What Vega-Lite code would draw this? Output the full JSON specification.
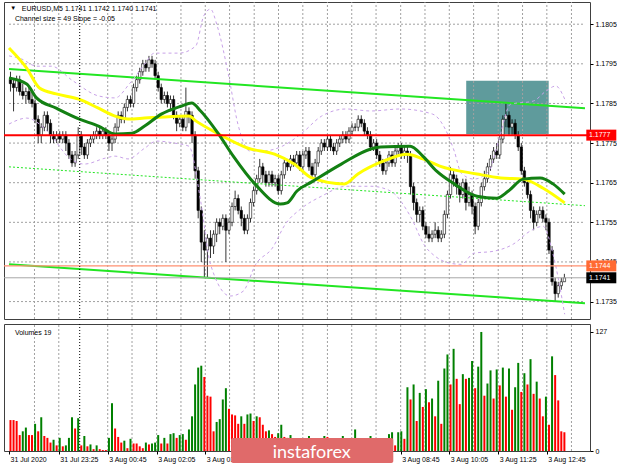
{
"$schema":"https://vega.github.io/schema/vega-lite/v6.json",
"background":"white",
"padding":{"left":2,"top":1,"right":0,"bottom":0},
"spacing":3,
"config":{"view":{"stroke":"#404040","strokeWidth":1},"axis":{"labelFont":"Liberation Sans","labelFontSize":7,"labelColor":"#000","title":null,"labelOverlap":false,"grid":false},"text":{"font":"Liberation Sans"}},
"datasets":{
"bars":[
{"i":0,"o":1.1791,"h":1.1793,"l":1.1788,"c":1.179,"v":33,"vd":"d"},
{"i":1,"o":1.179,"h":1.1791,"l":1.1783,"c":1.1789,"v":33,"vd":"d"},
{"i":2,"o":1.1789,"h":1.1792,"l":1.1788,"c":1.1791,"v":32,"vd":"d"},
{"i":3,"o":1.1791,"h":1.1792,"l":1.1787,"c":1.1788,"v":17,"vd":"d"},
{"i":4,"o":1.1788,"h":1.179,"l":1.1786,"c":1.1787,"v":21,"vd":"u"},
{"i":5,"o":1.1787,"h":1.1789,"l":1.1785,"c":1.1788,"v":25,"vd":"u"},
{"i":6,"o":1.1788,"h":1.1789,"l":1.1785,"c":1.1786,"v":17,"vd":"d"},
{"i":7,"o":1.1786,"h":1.1788,"l":1.1784,"c":1.1785,"v":17,"vd":"d"},
{"i":8,"o":1.1785,"h":1.1786,"l":1.178,"c":1.1781,"v":29,"vd":"u"},
{"i":9,"o":1.1781,"h":1.1782,"l":1.1775,"c":1.1777,"v":21,"vd":"d"},
{"i":10,"o":1.1777,"h":1.178,"l":1.1775,"c":1.1779,"v":36,"vd":"u"},
{"i":11,"o":1.1779,"h":1.1783,"l":1.1778,"c":1.1782,"v":16,"vd":"d"},
{"i":12,"o":1.1782,"h":1.1783,"l":1.1778,"c":1.178,"v":14,"vd":"d"},
{"i":13,"o":1.178,"h":1.1781,"l":1.1775,"c":1.1777,"v":9,"vd":"d"},
{"i":14,"o":1.1777,"h":1.1778,"l":1.1775,"c":1.1776,"v":12,"vd":"u"},
{"i":15,"o":1.1776,"h":1.1778,"l":1.1775,"c":1.1777,"v":6,"vd":"d"},
{"i":16,"o":1.1777,"h":1.1778,"l":1.1775,"c":1.1776,"v":14,"vd":"u"},
{"i":17,"o":1.1776,"h":1.1778,"l":1.1775,"c":1.1777,"v":5,"vd":"d"},
{"i":18,"o":1.1777,"h":1.1778,"l":1.1773,"c":1.1775,"v":6,"vd":"u"},
{"i":19,"o":1.1775,"h":1.1776,"l":1.1771,"c":1.1772,"v":14,"vd":"u"},
{"i":20,"o":1.1772,"h":1.1773,"l":1.1769,"c":1.177,"v":36,"vd":"u"},
{"i":21,"o":1.177,"h":1.1773,"l":1.1769,"c":1.1772,"v":24,"vd":"d"},
{"i":22,"o":1.1772,"h":1.1779,"l":1.1771,"c":1.1777,"v":35,"vd":"u"},
{"i":23,"o":1.1777,"h":1.1778,"l":1.1772,"c":1.1774,"v":6,"vd":"d"},
{"i":24,"o":1.1774,"h":1.1775,"l":1.1771,"c":1.1772,"v":16,"vd":"u"},
{"i":25,"o":1.1772,"h":1.1776,"l":1.1771,"c":1.1775,"v":5,"vd":"d"},
{"i":26,"o":1.1775,"h":1.1777,"l":1.1774,"c":1.1776,"v":7,"vd":"u"},
{"i":27,"o":1.1776,"h":1.1778,"l":1.1775,"c":1.1777,"v":2,"vd":"d"},
{"i":28,"o":1.1777,"h":1.1779,"l":1.1776,"c":1.1778,"v":6,"vd":"u"},
{"i":29,"o":1.1778,"h":1.1779,"l":1.1776,"c":1.1777,"v":2,"vd":"d"},
{"i":30,"o":1.1777,"h":1.1779,"l":1.1776,"c":1.1778,"v":1,"vd":"d"},
{"i":31,"o":1.1778,"h":1.1779,"l":1.1776,"c":1.1777,"v":1,"vd":"d"},
{"i":32,"o":1.1777,"h":1.1778,"l":1.1773,"c":1.1775,"v":14,"vd":"u"},
{"i":33,"o":1.1775,"h":1.1777,"l":1.1773,"c":1.1776,"v":51,"vd":"u"},
{"i":34,"o":1.1776,"h":1.178,"l":1.1775,"c":1.1779,"v":24,"vd":"d"},
{"i":35,"o":1.1779,"h":1.1783,"l":1.1778,"c":1.1782,"v":15,"vd":"d"},
{"i":36,"o":1.1782,"h":1.1783,"l":1.178,"c":1.1781,"v":9,"vd":"d"},
{"i":37,"o":1.1781,"h":1.1785,"l":1.178,"c":1.1784,"v":11,"vd":"u"},
{"i":38,"o":1.1784,"h":1.1787,"l":1.1783,"c":1.1786,"v":3,"vd":"d"},
{"i":39,"o":1.1786,"h":1.1787,"l":1.1784,"c":1.1785,"v":13,"vd":"u"},
{"i":40,"o":1.1785,"h":1.179,"l":1.1784,"c":1.1789,"v":8,"vd":"d"},
{"i":41,"o":1.1789,"h":1.1792,"l":1.1788,"c":1.1791,"v":8,"vd":"d"},
{"i":42,"o":1.1791,"h":1.1794,"l":1.179,"c":1.1793,"v":5,"vd":"d"},
{"i":43,"o":1.1793,"h":1.1796,"l":1.1792,"c":1.1795,"v":3,"vd":"d"},
{"i":44,"o":1.1795,"h":1.1796,"l":1.1793,"c":1.1794,"v":9,"vd":"u"},
{"i":45,"o":1.1794,"h":1.1797,"l":1.1793,"c":1.1796,"v":7,"vd":"d"},
{"i":46,"o":1.1796,"h":1.1797,"l":1.1794,"c":1.1795,"v":8,"vd":"u"},
{"i":47,"o":1.1795,"h":1.1796,"l":1.1791,"c":1.1792,"v":9,"vd":"u"},
{"i":48,"o":1.1792,"h":1.1793,"l":1.1788,"c":1.1789,"v":17,"vd":"u"},
{"i":49,"o":1.1789,"h":1.179,"l":1.1785,"c":1.1786,"v":8,"vd":"d"},
{"i":50,"o":1.1786,"h":1.1788,"l":1.1785,"c":1.1787,"v":14,"vd":"u"},
{"i":51,"o":1.1787,"h":1.1788,"l":1.1784,"c":1.1785,"v":8,"vd":"d"},
{"i":52,"o":1.1785,"h":1.1787,"l":1.1783,"c":1.1786,"v":18,"vd":"u"},
{"i":53,"o":1.1786,"h":1.1787,"l":1.1781,"c":1.1782,"v":19,"vd":"u"},
{"i":54,"o":1.1782,"h":1.1783,"l":1.1778,"c":1.178,"v":14,"vd":"d"},
{"i":55,"o":1.178,"h":1.1782,"l":1.1779,"c":1.1781,"v":17,"vd":"u"},
{"i":56,"o":1.1781,"h":1.1782,"l":1.1778,"c":1.1779,"v":18,"vd":"u"},
{"i":57,"o":1.1779,"h":1.1789,"l":1.1778,"c":1.1783,"v":12,"vd":"d"},
{"i":58,"o":1.1783,"h":1.1784,"l":1.178,"c":1.1782,"v":23,"vd":"u"},
{"i":59,"o":1.1782,"h":1.1783,"l":1.1775,"c":1.1777,"v":37,"vd":"u"},
{"i":60,"o":1.1777,"h":1.1778,"l":1.1766,"c":1.1768,"v":71,"vd":"u"},
{"i":61,"o":1.1768,"h":1.1769,"l":1.1756,"c":1.1758,"v":89,"vd":"u"},
{"i":62,"o":1.1758,"h":1.1759,"l":1.1745,"c":1.175,"v":91,"vd":"u"},
{"i":63,"o":1.175,"h":1.1753,"l":1.1741,"c":1.1748,"v":79,"vd":"d"},
{"i":64,"o":1.1748,"h":1.1752,"l":1.1741,"c":1.1751,"v":59,"vd":"d"},
{"i":65,"o":1.1751,"h":1.1753,"l":1.1746,"c":1.1749,"v":58,"vd":"d"},
{"i":66,"o":1.1749,"h":1.1753,"l":1.1747,"c":1.1752,"v":21,"vd":"d"},
{"i":67,"o":1.1752,"h":1.1756,"l":1.175,"c":1.1755,"v":31,"vd":"u"},
{"i":68,"o":1.1755,"h":1.1756,"l":1.1752,"c":1.1754,"v":34,"vd":"u"},
{"i":69,"o":1.1754,"h":1.1757,"l":1.1753,"c":1.1756,"v":55,"vd":"u"},
{"i":70,"o":1.1756,"h":1.1757,"l":1.1745,"c":1.1753,"v":67,"vd":"u"},
{"i":71,"o":1.1753,"h":1.1756,"l":1.1752,"c":1.1755,"v":45,"vd":"d"},
{"i":72,"o":1.1755,"h":1.176,"l":1.1754,"c":1.1759,"v":39,"vd":"d"},
{"i":73,"o":1.1759,"h":1.1763,"l":1.1758,"c":1.1761,"v":38,"vd":"d"},
{"i":74,"o":1.1761,"h":1.1762,"l":1.1757,"c":1.1758,"v":29,"vd":"d"},
{"i":75,"o":1.1758,"h":1.1759,"l":1.1754,"c":1.1756,"v":37,"vd":"u"},
{"i":76,"o":1.1756,"h":1.1757,"l":1.1752,"c":1.1753,"v":29,"vd":"d"},
{"i":77,"o":1.1753,"h":1.1757,"l":1.1752,"c":1.1756,"v":39,"vd":"u"},
{"i":78,"o":1.1756,"h":1.1761,"l":1.1755,"c":1.176,"v":40,"vd":"u"},
{"i":79,"o":1.176,"h":1.1764,"l":1.1759,"c":1.1763,"v":32,"vd":"d"},
{"i":80,"o":1.1763,"h":1.1767,"l":1.1762,"c":1.1766,"v":37,"vd":"u"},
{"i":81,"o":1.1766,"h":1.1771,"l":1.1765,"c":1.1769,"v":36,"vd":"d"},
{"i":82,"o":1.1769,"h":1.177,"l":1.1765,"c":1.1767,"v":28,"vd":"d"},
{"i":83,"o":1.1767,"h":1.1768,"l":1.1764,"c":1.1765,"v":21,"vd":"d"},
{"i":84,"o":1.1765,"h":1.1768,"l":1.1764,"c":1.1767,"v":22,"vd":"u"},
{"i":85,"o":1.1767,"h":1.1768,"l":1.1764,"c":1.1765,"v":18,"vd":"d"},
{"i":86,"o":1.1765,"h":1.1767,"l":1.1764,"c":1.1766,"v":15,"vd":"d"},
{"i":87,"o":1.1766,"h":1.1767,"l":1.1762,"c":1.1763,"v":19,"vd":"u"},
{"i":88,"o":1.1763,"h":1.1768,"l":1.1762,"c":1.1767,"v":28,"vd":"u"},
{"i":89,"o":1.1767,"h":1.1771,"l":1.1766,"c":1.177,"v":15,"vd":"d"},
{"i":90,"o":1.177,"h":1.1771,"l":1.1768,"c":1.1769,"v":14,"vd":"d"},
{"i":91,"o":1.1769,"h":1.1772,"l":1.1768,"c":1.1771,"v":17,"vd":"u"},
{"i":92,"o":1.1771,"h":1.1772,"l":1.1769,"c":1.177,"v":8,"vd":"d"},
{"i":93,"o":1.177,"h":1.1773,"l":1.1769,"c":1.1772,"v":5,"vd":"d"},
{"i":94,"o":1.1772,"h":1.1773,"l":1.1768,"c":1.1769,"v":9,"vd":"u"},
{"i":95,"o":1.1769,"h":1.1773,"l":1.1768,"c":1.1772,"v":4,"vd":"d"},
{"i":96,"o":1.1772,"h":1.1774,"l":1.1771,"c":1.1773,"v":3,"vd":"d"},
{"i":97,"o":1.1773,"h":1.1774,"l":1.1768,"c":1.1769,"v":16,"vd":"u"},
{"i":98,"o":1.1769,"h":1.177,"l":1.1766,"c":1.1767,"v":7,"vd":"d"},
{"i":99,"o":1.1767,"h":1.1771,"l":1.1766,"c":1.177,"v":5,"vd":"d"},
{"i":100,"o":1.177,"h":1.1774,"l":1.1769,"c":1.1773,"v":9,"vd":"u"},
{"i":101,"o":1.1773,"h":1.1776,"l":1.1772,"c":1.1775,"v":4,"vd":"d"},
{"i":102,"o":1.1775,"h":1.1776,"l":1.1773,"c":1.1774,"v":16,"vd":"u"},
{"i":103,"o":1.1774,"h":1.1777,"l":1.1773,"c":1.1776,"v":15,"vd":"d"},
{"i":104,"o":1.1776,"h":1.1777,"l":1.1773,"c":1.1774,"v":6,"vd":"d"},
{"i":105,"o":1.1774,"h":1.1775,"l":1.1772,"c":1.1773,"v":3,"vd":"d"},
{"i":106,"o":1.1773,"h":1.1776,"l":1.1772,"c":1.1775,"v":8,"vd":"u"},
{"i":107,"o":1.1775,"h":1.1777,"l":1.1774,"c":1.1776,"v":5,"vd":"d"},
{"i":108,"o":1.1776,"h":1.1778,"l":1.1775,"c":1.1777,"v":16,"vd":"u"},
{"i":109,"o":1.1777,"h":1.1778,"l":1.1775,"c":1.1776,"v":6,"vd":"d"},
{"i":110,"o":1.1776,"h":1.1779,"l":1.1775,"c":1.1778,"v":4,"vd":"d"},
{"i":111,"o":1.1778,"h":1.178,"l":1.1777,"c":1.1779,"v":8,"vd":"u"},
{"i":112,"o":1.1779,"h":1.178,"l":1.1778,"c":1.1779,"v":23,"vd":"u"},
{"i":113,"o":1.1779,"h":1.1782,"l":1.1778,"c":1.1781,"v":5,"vd":"d"},
{"i":114,"o":1.1781,"h":1.1782,"l":1.1779,"c":1.178,"v":3,"vd":"d"},
{"i":115,"o":1.178,"h":1.1781,"l":1.1777,"c":1.1778,"v":7,"vd":"u"},
{"i":116,"o":1.1778,"h":1.1779,"l":1.1776,"c":1.1777,"v":5,"vd":"d"},
{"i":117,"o":1.1777,"h":1.1778,"l":1.1773,"c":1.1774,"v":16,"vd":"u"},
{"i":118,"o":1.1774,"h":1.1776,"l":1.1773,"c":1.1775,"v":9,"vd":"d"},
{"i":119,"o":1.1775,"h":1.1776,"l":1.1771,"c":1.1772,"v":4,"vd":"d"},
{"i":120,"o":1.1772,"h":1.1773,"l":1.1769,"c":1.177,"v":7,"vd":"u"},
{"i":121,"o":1.177,"h":1.1771,"l":1.1767,"c":1.1768,"v":9,"vd":"u"},
{"i":122,"o":1.1768,"h":1.1771,"l":1.1767,"c":1.177,"v":5,"vd":"d"},
{"i":123,"o":1.177,"h":1.1773,"l":1.1769,"c":1.1772,"v":18,"vd":"u"},
{"i":124,"o":1.1772,"h":1.1773,"l":1.1769,"c":1.177,"v":20,"vd":"u"},
{"i":125,"o":1.177,"h":1.1774,"l":1.1769,"c":1.1773,"v":6,"vd":"d"},
{"i":126,"o":1.1773,"h":1.1775,"l":1.1772,"c":1.1774,"v":20,"vd":"u"},
{"i":127,"o":1.1774,"h":1.1775,"l":1.1771,"c":1.1772,"v":21,"vd":"u"},
{"i":128,"o":1.1772,"h":1.1774,"l":1.1771,"c":1.1773,"v":13,"vd":"d"},
{"i":129,"o":1.1773,"h":1.1774,"l":1.177,"c":1.1772,"v":68,"vd":"u"},
{"i":130,"o":1.1772,"h":1.1773,"l":1.1762,"c":1.1764,"v":55,"vd":"d"},
{"i":131,"o":1.1764,"h":1.1765,"l":1.1758,"c":1.176,"v":71,"vd":"u"},
{"i":132,"o":1.176,"h":1.1761,"l":1.1755,"c":1.1757,"v":32,"vd":"d"},
{"i":133,"o":1.1757,"h":1.1759,"l":1.1755,"c":1.1758,"v":62,"vd":"u"},
{"i":134,"o":1.1758,"h":1.1759,"l":1.1753,"c":1.1754,"v":47,"vd":"d"},
{"i":135,"o":1.1754,"h":1.1755,"l":1.1751,"c":1.1752,"v":66,"vd":"u"},
{"i":136,"o":1.1752,"h":1.1754,"l":1.175,"c":1.1751,"v":52,"vd":"d"},
{"i":137,"o":1.1751,"h":1.1753,"l":1.175,"c":1.1752,"v":56,"vd":"u"},
{"i":138,"o":1.1752,"h":1.1755,"l":1.1751,"c":1.1753,"v":37,"vd":"d"},
{"i":139,"o":1.1753,"h":1.1754,"l":1.175,"c":1.1751,"v":75,"vd":"u"},
{"i":140,"o":1.1751,"h":1.1753,"l":1.175,"c":1.1752,"v":29,"vd":"d"},
{"i":141,"o":1.1752,"h":1.1758,"l":1.1751,"c":1.1757,"v":88,"vd":"u"},
{"i":142,"o":1.1757,"h":1.1763,"l":1.1756,"c":1.1762,"v":103,"vd":"u"},
{"i":143,"o":1.1762,"h":1.1769,"l":1.1761,"c":1.1767,"v":71,"vd":"d"},
{"i":144,"o":1.1767,"h":1.1768,"l":1.1764,"c":1.1766,"v":109,"vd":"u"},
{"i":145,"o":1.1766,"h":1.1767,"l":1.1762,"c":1.1764,"v":77,"vd":"d"},
{"i":146,"o":1.1764,"h":1.1765,"l":1.176,"c":1.1762,"v":50,"vd":"d"},
{"i":147,"o":1.1762,"h":1.1766,"l":1.1761,"c":1.1765,"v":82,"vd":"u"},
{"i":148,"o":1.1765,"h":1.1766,"l":1.1758,"c":1.176,"v":77,"vd":"d"},
{"i":149,"o":1.176,"h":1.1764,"l":1.1759,"c":1.1762,"v":78,"vd":"u"},
{"i":150,"o":1.1762,"h":1.1763,"l":1.1757,"c":1.1759,"v":96,"vd":"u"},
{"i":151,"o":1.1759,"h":1.176,"l":1.1752,"c":1.1754,"v":67,"vd":"d"},
{"i":152,"o":1.1754,"h":1.1761,"l":1.1753,"c":1.176,"v":90,"vd":"u"},
{"i":153,"o":1.176,"h":1.1765,"l":1.1759,"c":1.1764,"v":127,"vd":"u"},
{"i":154,"o":1.1764,"h":1.1768,"l":1.1763,"c":1.1766,"v":59,"vd":"d"},
{"i":155,"o":1.1766,"h":1.177,"l":1.1765,"c":1.1769,"v":72,"vd":"u"},
{"i":156,"o":1.1769,"h":1.1772,"l":1.1768,"c":1.1771,"v":86,"vd":"u"},
{"i":157,"o":1.1771,"h":1.1774,"l":1.177,"c":1.1773,"v":56,"vd":"d"},
{"i":158,"o":1.1773,"h":1.1775,"l":1.1771,"c":1.1772,"v":87,"vd":"u"},
{"i":159,"o":1.1772,"h":1.1777,"l":1.1771,"c":1.1776,"v":70,"vd":"d"},
{"i":160,"o":1.1776,"h":1.1782,"l":1.1775,"c":1.1781,"v":89,"vd":"u"},
{"i":161,"o":1.1781,"h":1.1785,"l":1.1779,"c":1.1782,"v":58,"vd":"d"},
{"i":162,"o":1.1782,"h":1.1783,"l":1.1777,"c":1.1779,"v":88,"vd":"u"},
{"i":163,"o":1.1779,"h":1.1781,"l":1.1777,"c":1.178,"v":44,"vd":"d"},
{"i":164,"o":1.178,"h":1.1781,"l":1.1776,"c":1.1777,"v":68,"vd":"u"},
{"i":165,"o":1.1777,"h":1.1778,"l":1.1773,"c":1.1774,"v":94,"vd":"u"},
{"i":166,"o":1.1774,"h":1.1775,"l":1.1767,"c":1.1768,"v":63,"vd":"d"},
{"i":167,"o":1.1768,"h":1.1769,"l":1.1764,"c":1.1765,"v":83,"vd":"u"},
{"i":168,"o":1.1765,"h":1.1766,"l":1.1761,"c":1.1762,"v":71,"vd":"d"},
{"i":169,"o":1.1762,"h":1.1763,"l":1.1756,"c":1.1758,"v":98,"vd":"u"},
{"i":170,"o":1.1758,"h":1.1759,"l":1.1753,"c":1.1755,"v":61,"vd":"d"},
{"i":171,"o":1.1755,"h":1.1758,"l":1.1754,"c":1.1757,"v":74,"vd":"u"},
{"i":172,"o":1.1757,"h":1.1759,"l":1.1756,"c":1.1758,"v":56,"vd":"d"},
{"i":173,"o":1.1758,"h":1.1759,"l":1.1755,"c":1.1756,"v":37,"vd":"d"},
{"i":174,"o":1.1756,"h":1.1757,"l":1.1753,"c":1.1755,"v":58,"vd":"u"},
{"i":175,"o":1.1755,"h":1.1756,"l":1.1747,"c":1.1748,"v":28,"vd":"d"},
{"i":176,"o":1.1748,"h":1.1749,"l":1.1739,"c":1.174,"v":101,"vd":"u"},
{"i":177,"o":1.174,"h":1.1741,"l":1.1735,"c":1.1737,"v":81,"vd":"d"},
{"i":178,"o":1.1737,"h":1.174,"l":1.1736,"c":1.1739,"v":54,"vd":"d"},
{"i":179,"o":1.1739,"h":1.1741,"l":1.1738,"c":1.174,"v":21,"vd":"d"},
{"i":180,"o":1.174,"h":1.1742,"l":1.174,"c":1.1741,"v":20,"vd":"d"}
],
"lines":[
{"s":"y","i":-0.48,"p":1.1799},{"s":"y","i":5.27,"p":1.17939},{"s":"y","i":9.42,"p":1.17889},{"s":"y","i":14.86,"p":1.17874},{"s":"y","i":22.2,"p":1.17861},{"s":"y","i":28.6,"p":1.17838},{"s":"y","i":34,"p":1.17818},{"s":"y","i":38.2,"p":1.17811},{"s":"y","i":43.6,"p":1.17813},{"s":"y","i":50,"p":1.17816},{"s":"y","i":58,"p":1.17818},{"s":"y","i":60.2,"p":1.17806},{"s":"y","i":67.6,"p":1.17773},{"s":"y","i":77.2,"p":1.17737},{"s":"y","i":85.8,"p":1.17722},{"s":"y","i":92.2,"p":1.17697},{"s":"y","i":97.9,"p":1.17662},{"s":"y","i":108.5,"p":1.17647},{"s":"y","i":112.9,"p":1.17672},{"s":"y","i":121.3,"p":1.17705},{"s":"y","i":128.9,"p":1.17722},{"s":"y","i":134,"p":1.1771},{"s":"y","i":139.5,"p":1.17692},{"s":"y","i":151.6,"p":1.17672},{"s":"y","i":159.3,"p":1.17662},{"s":"y","i":166.6,"p":1.17659},{"s":"y","i":173.1,"p":1.17636},{"s":"y","i":180.1,"p":1.17599},
{"s":"g","i":-0.48,"p":1.17914},{"s":"g","i":5.27,"p":1.17899},{"s":"g","i":8.47,"p":1.17864},{"s":"g","i":14.86,"p":1.17838},{"s":"g","i":22.2,"p":1.17811},{"s":"g","i":28.6,"p":1.17793},{"s":"g","i":34,"p":1.17773},{"s":"g","i":39.5,"p":1.17775},{"s":"g","i":43.6,"p":1.17793},{"s":"g","i":49,"p":1.17823},{"s":"g","i":55.4,"p":1.17843},{"s":"g","i":58.9,"p":1.17851},{"s":"g","i":61.8,"p":1.17831},{"s":"g","i":67.6,"p":1.17773},{"s":"g","i":72.4,"p":1.17717},{"s":"g","i":79.4,"p":1.17647},{"s":"g","i":87.7,"p":1.17596},{"s":"g","i":89.9,"p":1.17599},{"s":"g","i":93.1,"p":1.17629},{"s":"g","i":97.9,"p":1.17652},{"s":"g","i":107.5,"p":1.17697},{"s":"g","i":117.1,"p":1.17735},{"s":"g","i":120.3,"p":1.1774},{"s":"g","i":129.9,"p":1.17742},{"s":"g","i":134,"p":1.17717},{"s":"g","i":138.5,"p":1.17679},{"s":"g","i":144.2,"p":1.17647},{"s":"g","i":151.6,"p":1.17616},{"s":"g","i":158,"p":1.17611},{"s":"g","i":161.8,"p":1.17629},{"s":"g","i":166.6,"p":1.17659},{"s":"g","i":172.1,"p":1.17662},{"s":"g","i":176.3,"p":1.17647},{"s":"g","i":180.1,"p":1.17621},
{"s":"u","i":-0.48,"p":1.1797},{"s":"u","i":3.67,"p":1.17962},{"s":"u","i":8.47,"p":1.17944},{"s":"u","i":13.26,"p":1.17944},{"s":"u","i":20.29,"p":1.17907},{"s":"u","i":28.6,"p":1.17869},{"s":"u","i":34,"p":1.17864},{"s":"u","i":38.8,"p":1.17901},{"s":"u","i":43.6,"p":1.17949},{"s":"u","i":46.8,"p":1.17977},{"s":"u","i":54.8,"p":1.17977},{"s":"u","i":60.2,"p":1.17995},{"s":"u","i":62.8,"p":1.18071},{"s":"u","i":65,"p":1.18088},{"s":"u","i":67.2,"p":1.18045},{"s":"u","i":70.8,"p":1.17924},{"s":"u","i":73.9,"p":1.17798},{"s":"u","i":77.8,"p":1.1773},{"s":"u","i":81.9,"p":1.1773},{"s":"u","i":88.3,"p":1.17742},{"s":"u","i":94.7,"p":1.17775},{"s":"u","i":101.1,"p":1.17818},{"s":"u","i":109.1,"p":1.17836},{"s":"u","i":117.1,"p":1.17831},{"s":"u","i":126.7,"p":1.17836},{"s":"u","i":137.2,"p":1.17823},{"s":"u","i":141.1,"p":1.17788},{"s":"u","i":144.2,"p":1.1773},{"s":"u","i":146.5,"p":1.17674},{"s":"u","i":150.6,"p":1.17659},{"s":"u","i":155.4,"p":1.17679},{"s":"u","i":158.6,"p":1.17755},{"s":"u","i":162.5,"p":1.17848},{"s":"u","i":169.9,"p":1.17856},{"s":"u","i":174,"p":1.17881},{"s":"u","i":177.2,"p":1.17894},{"s":"u","i":180.1,"p":1.17861},
{"s":"l","i":-0.48,"p":1.17798},{"s":"l","i":5.27,"p":1.17813},{"s":"l","i":12,"p":1.1778},{"s":"l","i":19.5,"p":1.1771},{"s":"l","i":24,"p":1.17697},{"s":"l","i":30.8,"p":1.17712},{"s":"l","i":34,"p":1.17717},{"s":"l","i":38.2,"p":1.1771},{"s":"l","i":43.6,"p":1.17737},{"s":"l","i":47.4,"p":1.17755},{"s":"l","i":53.2,"p":1.1775},{"s":"l","i":58,"p":1.17742},{"s":"l","i":61.8,"p":1.17604},{"s":"l","i":65,"p":1.17444},{"s":"l","i":71.4,"p":1.17364},{"s":"l","i":75.6,"p":1.17376},{"s":"l","i":79.7,"p":1.17444},{"s":"l","i":85.1,"p":1.17485},{"s":"l","i":89.3,"p":1.17545},{"s":"l","i":94.7,"p":1.17586},{"s":"l","i":101.1,"p":1.17616},{"s":"l","i":109.1,"p":1.17641},{"s":"l","i":117.1,"p":1.17641},{"s":"l","i":123.5,"p":1.17629},{"s":"l","i":129.9,"p":1.17566},{"s":"l","i":134.7,"p":1.1749},{"s":"l","i":137.9,"p":1.17465},{"s":"l","i":142.7,"p":1.17447},{"s":"l","i":146.5,"p":1.17444},{"s":"l","i":150.6,"p":1.17472},{"s":"l","i":157,"p":1.17477},{"s":"l","i":163.4,"p":1.17495},{"s":"l","i":168.9,"p":1.17528},{"s":"l","i":173.1,"p":1.1754},{"s":"l","i":176.3,"p":1.1747},{"s":"l","i":180.1,"p":1.17318},
{"s":"ct","i":-0.48,"p":1.17937},{"s":"ct","i":186.7,"p":1.17838},
{"s":"cb","i":-0.48,"p":1.17444},{"s":"cb","i":186.7,"p":1.17346},
{"s":"cm","i":-0.48,"p":1.1769},{"s":"cm","i":186.7,"p":1.17592}
],
"levels":[{"p":1.1777,"lab":"1.1777","k":"r"},{"p":1.1744,"lab":"1.1744","k":"o"},{"p":1.1741,"lab":"1.1741","k":"b"}],
"zone":[{"i1":148.1,"i2":174.9,"p1":1.17773,"p2":1.17907}],
"sep":[{"i":22.5}],
"vg":[{"i":7.8},{"i":15.7},{"i":31.6},{"i":39.5},{"i":47.5},{"i":55.4},{"i":63.3},{"i":71.2},{"i":79.2},{"i":87.1},{"i":95},{"i":103},{"i":110.9},{"i":118.8},{"i":126.8},{"i":134.7},{"i":142.6},{"i":150.5},{"i":158.5},{"i":166.4},{"i":174.3},{"i":182.3}],
"hg":[{"p":1.1735},{"p":1.1745},{"p":1.1755},{"p":1.1765},{"p":1.1775},{"p":1.1785},{"p":1.1795},{"p":1.1805}]
},
"vconcat":[
{
"width":586,"height":317,
"layer":[
{"data":{"name":"zone"},"mark":{"type":"rect","color":"#5f9b9c"},
 "encoding":{
  "x":{"field":"i1","type":"quantitative","scale":{"domain":[-0.48,186.7],"nice":false,"zero":false},
       "axis":{"labels":false,"ticks":false,"domain":false,"grid":false,"title":null}},
  "x2":{"field":"i2"},
  "y":{"field":"p1","type":"quantitative","scale":{"domain":[1.17306,1.18106],"nice":false,"zero":false},
       "axis":{"orient":"right","values":[1.1735,1.1745,1.1755,1.1765,1.1775,1.1785,1.1795,1.1805],"format":".4f","grid":false,"domain":false,"ticks":true,"tickSize":3,"tickColor":"#000","labelPadding":2,"labelOverlap":false,"labelBound":false,"labelFlush":false,"title":null}},
  "y2":{"field":"p2"}}},
{"data":{"name":"vg"},"mark":{"type":"rule","stroke":"#a0a0a0","strokeWidth":1,"strokeDash":[2,2]},
 "encoding":{"x":{"field":"i","type":"quantitative"},"y":{"datum":1.17306,"type":"quantitative"},"y2":{"datum":1.18106}}},
{"data":{"name":"hg"},"mark":{"type":"rule","stroke":"#a0a0a0","strokeWidth":1,"strokeDash":[2,2]},
 "encoding":{"y":{"field":"p","type":"quantitative"},"x":{"datum":-0.48,"type":"quantitative"},"x2":{"datum":186.7}}},
{"data":{"name":"bars"},"mark":{"type":"rule","color":"#000","strokeWidth":0.8},
 "encoding":{"x":{"field":"i","type":"quantitative"},"y":{"field":"l","type":"quantitative"},"y2":{"field":"h"}}},
{"data":{"name":"bars"},"mark":{"type":"bar","size":2.4,"stroke":"#000","strokeWidth":0.6},
 "encoding":{"x":{"field":"i","type":"quantitative"},"y":{"field":"o","type":"quantitative"},"y2":{"field":"c"},
  "fill":{"condition":{"test":"datum.c >= datum.o","value":"#ffffff"},"value":"#000000"}}},
{"data":{"name":"lines"},"transform":[{"filter":"datum.s == 'ct' || datum.s == 'cb'"}],"mark":{"type":"line","color":"#22e622","strokeWidth":2},
 "encoding":{"x":{"field":"i","type":"quantitative"},"y":{"field":"p","type":"quantitative"},"detail":{"field":"s"}}},
{"data":{"name":"lines"},"transform":[{"filter":"datum.s == 'cm'"}],"mark":{"type":"line","color":"#22e622","strokeWidth":1,"strokeDash":[2,2]},
 "encoding":{"x":{"field":"i","type":"quantitative"},"y":{"field":"p","type":"quantitative"}}},
{"data":{"name":"lines"},"transform":[{"filter":"datum.s == 'u' || datum.s == 'l'"}],"mark":{"type":"line","color":"#c8a2e8","strokeWidth":1,"strokeDash":[3,3],"interpolate":"monotone"},
 "encoding":{"x":{"field":"i","type":"quantitative"},"y":{"field":"p","type":"quantitative"},"detail":{"field":"s"}}},
{"data":{"name":"lines"},"transform":[{"filter":"datum.s == 'y'"}],"mark":{"type":"line","color":"#ffff00","strokeWidth":3,"interpolate":"monotone"},
 "encoding":{"x":{"field":"i","type":"quantitative"},"y":{"field":"p","type":"quantitative"}}},
{"data":{"name":"lines"},"transform":[{"filter":"datum.s == 'g'"}],"mark":{"type":"line","color":"#138013","strokeWidth":3,"interpolate":"monotone"},
 "encoding":{"x":{"field":"i","type":"quantitative"},"y":{"field":"p","type":"quantitative"}}},
{"data":{"name":"levels"},"mark":{"type":"rule"},
 "encoding":{"y":{"field":"p","type":"quantitative"},
  "color":{"condition":[{"test":"datum.k == 'r'","value":"#ff0000"},{"test":"datum.k == 'o'","value":"#ff9070"}],"value":"#a8a8a8"},
  "strokeWidth":{"condition":[{"test":"datum.k == 'r'","value":2},{"test":"datum.k == 'o'","value":1.3}],"value":1}}},
{"data":{"name":"sep"},"mark":{"type":"rule","color":"#000","strokeWidth":1,"strokeDash":[1,2]},
 "encoding":{"x":{"field":"i","type":"quantitative"}}},
{"data":{"name":"levels"},"mark":{"type":"tick","orient":"horizontal","size":30,"thickness":11,"opacity":1},
 "encoding":{"x":{"datum":192.0,"type":"quantitative"},"y":{"field":"p","type":"quantitative"},
  "color":{"condition":[{"test":"datum.k == 'r'","value":"#ff0000"},{"test":"datum.k == 'o'","value":"#ff6a33"}],"value":"#000000"}}},
{"data":{"name":"levels"},"mark":{"type":"text","align":"left","baseline":"middle","fontSize":7,"color":"#ffffff"},
 "encoding":{"x":{"datum":188.0,"type":"quantitative"},"y":{"field":"p","type":"quantitative"},"text":{"field":"lab"}}},
{"data":{"values":[{}]},"mark":{"type":"text","text":"▼","align":"left","baseline":"middle","fontSize":6,"color":"#000"},
 "encoding":{"x":{"datum":-0.1,"type":"quantitative"},"y":{"datum":1.1809,"type":"quantitative"}}},
{"data":{"values":[{}]},"mark":{"type":"text","text":"EURUSD,M5  1.1741 1.1742 1.1740 1.1741","align":"left","baseline":"middle","fontSize":7,"color":"#000"},
 "encoding":{"x":{"datum":3.67,"type":"quantitative"},"y":{"datum":1.18088,"type":"quantitative"}}},
{"data":{"values":[{}]},"mark":{"type":"text","text":"Channel size = 49 Slope = -0.05","align":"left","baseline":"middle","fontSize":7,"color":"#000"},
 "encoding":{"x":{"datum":1.44,"type":"quantitative"},"y":{"datum":1.18063,"type":"quantitative"}}}
]
},
{
"width":586,"height":127,
"layer":[
{"data":{"name":"vg"},"mark":{"type":"rule","stroke":"#a0a0a0","strokeWidth":1,"strokeDash":[2,2]},
 "encoding":{"x":{"field":"i","type":"quantitative","scale":{"domain":[-0.48,186.7],"nice":false,"zero":false},
   "axis":{"orient":"bottom","values":[-0.48,15.7,31.6,47.5,63.3,126.8,142.6,158.5,174.3],
    "labelExpr":"datum.value < 0 ? '31 Jul 2020' : datum.value < 20 ? '31 Jul 23:25' : datum.value < 40 ? '3 Aug 00:45' : datum.value < 50 ? '3 Aug 02:05' : datum.value < 70 ? '3 Aug 03:25' : datum.value < 130 ? '3 Aug 08:45' : datum.value < 150 ? '3 Aug 10:05' : datum.value < 165 ? '3 Aug 11:25' : '3 Aug 12:45'",
    "grid":false,"domain":false,"ticks":true,"tickSize":3,"tickColor":"#000","labelAlign":"left","labelOffset":1,"labelPadding":1,"labelOverlap":false,"labelBound":false,"labelFlush":false,"title":null}},
  "y":{"datum":0,"type":"quantitative","scale":{"domain":[0,135.5],"nice":false,"zero":true},
   "axis":{"orient":"right","values":[0,127],"grid":false,"domain":false,"ticks":true,"tickSize":3,"tickColor":"#000","labelPadding":2,"title":null}},
  "y2":{"datum":135.5}}},
{"data":{"name":"bars"},"mark":{"type":"bar","size":2},
 "encoding":{
  "x":{"field":"i","type":"quantitative"},
  "y":{"field":"v","type":"quantitative"},
  "color":{"condition":{"test":"datum.vd == 'u'","value":"#008000"},"value":"#ff0000"}}},
{"data":{"name":"sep"},"mark":{"type":"rule","color":"#000","strokeWidth":1,"strokeDash":[1,2]},
 "encoding":{"x":{"field":"i","type":"quantitative"}}},
{"data":{"values":[{}]},"mark":{"type":"text","text":"Volumes 19","align":"left","baseline":"middle","fontSize":7,"color":"#000"},
 "encoding":{"x":{"datum":1.44,"type":"quantitative"},"y":{"datum":126,"type":"quantitative"}}},
{"data":{"values":[{}]},"mark":{"type":"rect","color":"#e06a6a","cornerRadius":2},
 "encoding":{"x":{"datum":71.7,"type":"quantitative"},"x2":{"datum":124.4},"y":{"datum":13.9,"type":"quantitative"},"y2":{"datum":-12.8}}},
{"data":{"values":[{}]},"mark":{"type":"text","text":"instaforex","align":"center","baseline":"middle","font":"Lato","fontSize":18,"color":"#ffffff"},
 "encoding":{"x":{"datum":97.9,"type":"quantitative"},"y":{"datum":-2.1,"type":"quantitative"}}}
]
}
]
}
